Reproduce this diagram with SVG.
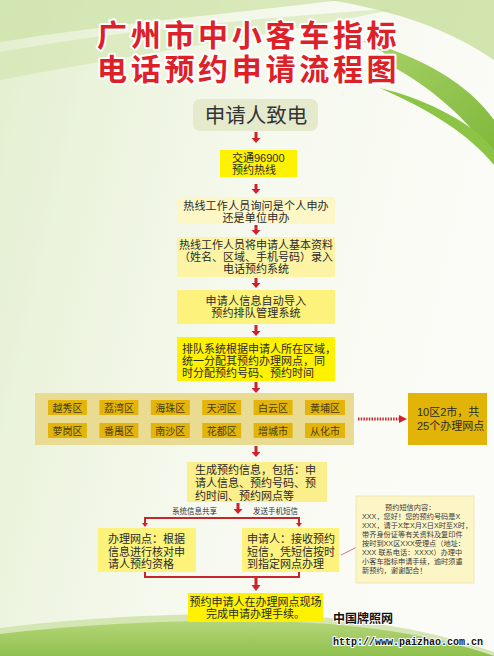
<svg xmlns="http://www.w3.org/2000/svg" width="494" height="656" viewBox="0 0 494 656">
<defs>
<linearGradient id="bg" x1="0" y1="0" x2="1" y2="0.3">
<stop offset="0" stop-color="#e3efd0"/>
<stop offset="0.55" stop-color="#f6f9ee"/>
<stop offset="1" stop-color="#fbfcf7"/>
</linearGradient>
<linearGradient id="hill" x1="0" y1="0" x2="0" y2="1">
<stop offset="0" stop-color="#b5d67a"/>
<stop offset="1" stop-color="#8fc04c"/>
</linearGradient>
<linearGradient id="swR" x1="0" y1="0" x2="1" y2="1">
<stop offset="0" stop-color="#a9d26a"/>
<stop offset="1" stop-color="#7fb83a"/>
</linearGradient>
<style>
.cjk{font-family:"Liberation Sans","Noto Sans CJK SC",sans-serif;}
.title{font-size:30px;font-weight:bold;fill:#dd2128;stroke:#ffffff;stroke-width:4;paint-order:stroke;stroke-linejoin:round;letter-spacing:3.7px;}
.t{font-size:11px;fill:#2a2a2a;}
.chip{fill:#e3b50c;}
.ct{font-size:10px;fill:#4a3c12;text-anchor:middle;}
.arr{fill:#d0222b;}
.ln{stroke:#c8262d;stroke-width:2;fill:none;}
.note{font-size:7.2px;fill:#3a3a3a;}
</style>
</defs>
<rect width="494" height="656" fill="url(#bg)"/>
<!-- top swooshes -->
<path d="M0,0 H340 C250,12 120,22 0,42 Z" fill="#c9e09f" opacity="0.65"/>
<path d="M0,52 C120,30 260,18 400,8 C300,30 150,52 0,80 Z" fill="#cfe3a9" opacity="0.55"/>
<path d="M330,0 H494 V60 C450,30 400,12 330,0 Z" fill="#c7df9c" opacity="0.8"/>
<path d="M360,40 C420,55 470,85 494,120 V160 C470,120 430,85 380,60 C400,62 380,48 360,40 Z" fill="url(#swR)"/>
<path d="M380,88 C430,100 475,125 494,150 V165 C470,135 430,110 380,88 Z" fill="#8cc445"/>
<!-- bottom hill -->
<path d="M0,628 C100,615 230,610 330,618 C410,626 460,640 494,652 V656 H0 Z" fill="#d3e6b3"/>
<path d="M0,634 C100,622 230,617 330,624 C410,631 460,644 494,656 H0 Z" fill="url(#hill)"/>

<!-- title -->
<text class="cjk title" x="97" y="46">广州市中小客车指标</text>
<text class="cjk title" x="97" y="80">电话预约申请流程图</text>

<g id="connectors">
<path class="arr" d="M254.5,132 h3 v6 h3 l-4.5,5 l-4.5,-5 h3 z"/>
<path class="arr" d="M254.5,184 h3 v5 h3 l-4.5,5 l-4.5,-5 h3 z"/>
<path class="arr" d="M254.5,225 h3 v5 h3 l-4.5,5 l-4.5,-5 h3 z"/>
<path class="arr" d="M254.5,278 h3 v5 h3 l-4.5,5 l-4.5,-5 h3 z"/>
<path class="arr" d="M254.5,325 h3 v6 h3 l-4.5,5 l-4.5,-5 h3 z"/>
<path class="arr" d="M254.5,382 h3 v6 h3 l-4.5,5 l-4.5,-5 h3 z"/>
<path class="arr" d="M254.5,446 h3 v6 h3 l-4.5,5 l-4.5,-5 h3 z"/>
<path class="arr" d="M236.5,503 h3 v6 h3 l-4.5,5 l-4.5,-5 h3 z"/>
<path class="ln" d="M145,525 V518 H299 V525"/>
<path class="arr" d="M142,523 h6 l-3,4 z M296,523 h6 l-3,4 z"/>
<path class="ln" d="M145,572 V577 H299 V572"/>
<path class="arr" d="M254.5,577 h3 v8 h3 l-4.5,6 l-4.5,-6 h3 z"/>
<line x1="358" y1="419" x2="400" y2="419" stroke="#c8262d" stroke-width="3" stroke-dasharray="1.5,1.2"/>
<path class="arr" d="M399,415 l8,4 l-8,4 z"/>
<line x1="341" y1="555" x2="357" y2="547" stroke="#d9738a" stroke-width="1"/>
<text class="cjk" x="172" y="514" font-size="7.5" fill="#333">系统信息共享</text>
<text class="cjk" x="253" y="514" font-size="7.5" fill="#333">发送手机短信</text>
</g>

<g id="n-call">
<rect x="193" y="99" width="125" height="32" rx="7" fill="#e4eacb"/>
<text class="cjk" x="256" y="123" font-size="20.5" fill="#333" text-anchor="middle">申请人致电</text>
</g>
<g id="n-hotline">
<rect x="220" y="150" width="77" height="27" fill="#fff200"/>
<text class="cjk t" x="232" y="162">交通96900</text>
<text class="cjk t" x="232" y="174">预约热线</text>
</g>
<g id="n-ask">
<rect x="177" y="197" width="158" height="27" fill="#fdf7c8"/>
<text class="cjk t" x="256" y="210" text-anchor="middle" letter-spacing="0.2">热线工作人员询问是个人申办</text>
<text class="cjk t" x="256" y="222" text-anchor="middle" letter-spacing="0.2">还是单位申办</text>
</g>
<g id="n-input">
<rect x="177" y="237" width="158" height="40" fill="#fcf4a4"/>
<text class="cjk t" x="256" y="249" text-anchor="middle" font-size="10.5">热线工作人员将申请人基本资料</text>
<text class="cjk t" x="256" y="261" text-anchor="middle" font-size="10.5">（姓名、区域、手机号码）录入</text>
<text class="cjk t" x="256" y="273" text-anchor="middle" font-size="10.5">电话预约系统</text>
</g>
<g id="n-import">
<rect x="177" y="290" width="158" height="34" fill="#fdf27c"/>
<text class="cjk t" x="256" y="305" text-anchor="middle" letter-spacing="0.2">申请人信息自动导入</text>
<text class="cjk t" x="256" y="317" text-anchor="middle" letter-spacing="0.2">预约排队管理系统</text>
</g>
<g id="n-queue">
<rect x="177" y="337" width="158" height="44" fill="#fff200"/>
<text class="cjk t" x="182" y="353" font-size="10.7">排队系统根据申请人所在区域，</text>
<text class="cjk t" x="182" y="365" font-size="10.7">统一分配其预约办理网点，同</text>
<text class="cjk t" x="182" y="377" font-size="10.7">时分配预约号码、预约时间</text>
</g>
<g id="n-districts">
<rect x="35" y="393" width="319" height="52" fill="#eadb92"/>
<rect class="chip" x="48" y="400" width="39" height="15"/><text class="cjk ct" x="67.5" y="412">越秀区</text>
<rect class="chip" x="99.4" y="400" width="39" height="15"/><text class="cjk ct" x="118.9" y="412">荔湾区</text>
<rect class="chip" x="150.8" y="400" width="39" height="15"/><text class="cjk ct" x="170.3" y="412">海珠区</text>
<rect class="chip" x="202.2" y="400" width="39" height="15"/><text class="cjk ct" x="221.7" y="412">天河区</text>
<rect class="chip" x="253.6" y="400" width="39" height="15"/><text class="cjk ct" x="273.1" y="412">白云区</text>
<rect class="chip" x="305" y="400" width="40" height="15"/><text class="cjk ct" x="325" y="412">黄埔区</text>
<rect class="chip" x="48" y="423" width="39" height="15"/><text class="cjk ct" x="67.5" y="435">萝岗区</text>
<rect class="chip" x="99.4" y="423" width="39" height="15"/><text class="cjk ct" x="118.9" y="435">番禺区</text>
<rect class="chip" x="150.8" y="423" width="39" height="15"/><text class="cjk ct" x="170.3" y="435">南沙区</text>
<rect class="chip" x="202.2" y="423" width="39" height="15"/><text class="cjk ct" x="221.7" y="435">花都区</text>
<rect class="chip" x="253.6" y="423" width="39" height="15"/><text class="cjk ct" x="273.1" y="435">增城市</text>
<rect class="chip" x="305" y="423" width="40" height="15"/><text class="cjk ct" x="325" y="435">从化市</text>
</g>
<g id="n-total">
<rect x="408" y="393" width="79" height="52" fill="#e2b407"/>
<text class="cjk t" x="417" y="416">10区2市，共</text>
<text class="cjk t" x="417" y="430">25个办理网点</text>
</g>
<g id="n-generate">
<rect x="187" y="462" width="140" height="40" fill="#fbef8c"/>
<text class="cjk t" x="195" y="474">生成预约信息，包括：申</text>
<text class="cjk t" x="195" y="487">请人信息、预约号码、预</text>
<text class="cjk t" x="195" y="500">约时间、预约网点等</text>
</g>
<g id="n-outlet">
<rect x="98" y="528" width="98" height="44" fill="#fdf27c"/>
<text class="cjk t" x="108" y="543" font-size="11.3">办理网点：根据</text>
<text class="cjk t" x="108" y="556" font-size="11.3">信息进行核对申</text>
<text class="cjk t" x="108" y="568" font-size="11.3">请人预约资格</text>
</g>
<g id="n-applicant">
<rect x="242" y="528" width="97" height="44" fill="#fdf27c"/>
<text class="cjk t" x="247" y="543">申请人：接收预约</text>
<text class="cjk t" x="247" y="556">短信，凭短信按时</text>
<text class="cjk t" x="247" y="568">到指定网点办理</text>
</g>
<g id="n-sms">
<rect x="356" y="496" width="118" height="87" fill="#fcf5c6" stroke="#ece3ad" stroke-width="0.8"/>
<text class="cjk note" x="385" y="510">预约短信内容：</text>
<text class="cjk note" x="362" y="519">XXX，您好！您的预约号码是X</text>
<text class="cjk note" x="362" y="528">XXX，请于X年X月X日X时至X时，</text>
<text class="cjk note" x="362" y="537">带齐身份证等有关资料及复印件</text>
<text class="cjk note" x="362" y="546">按时到XX区XXX受理点（地址：</text>
<text class="cjk note" x="362" y="555">XXX 联系电话：XXXX）办理中</text>
<text class="cjk note" x="362" y="564">小客车指标申请手续，逾时须重</text>
<text class="cjk note" x="362" y="573">新预约，谢谢配合！</text>
</g>
<g id="n-final">
<rect x="188" y="593" width="135" height="29" fill="#fff200"/>
<text class="cjk t" x="255.5" y="606" text-anchor="middle">预约申请人在办理网点现场</text>
<text class="cjk t" x="255.5" y="618" text-anchor="middle">完成申请办理手续。</text>
</g>
<g id="watermark">
<text class="cjk" x="333" y="623" font-size="12" font-weight="bold" fill="#111" stroke="#fff" stroke-width="2" paint-order="stroke">中国牌照网</text>
<text x="333" y="645" font-family="'Liberation Mono',monospace" font-size="10" font-weight="bold" fill="#111" stroke="#fff" stroke-width="2" paint-order="stroke">http://www.paizhao.com.cn</text>
</g>
</svg>
